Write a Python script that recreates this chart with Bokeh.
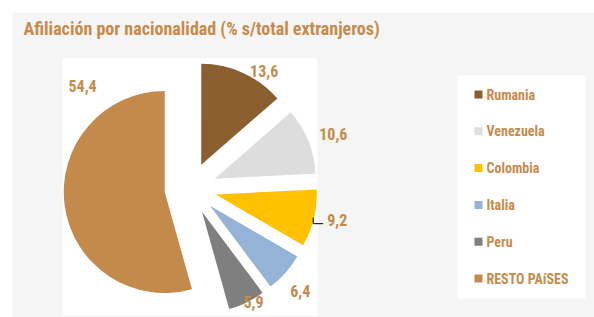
import math
from bokeh.plotting import figure
from bokeh.models import Range1d
from bokeh.core.properties import value
from bokeh.embed import file_html
from bokeh.resources import INLINE

# ---- data ----
countries = ["Rumania", "Venezuela", "Colombia", "Italia", "Peru", "RESTO PAíSES"]
shares = [13.6, 10.6, 9.2, 6.4, 5.9, 54.4]
value_labels = ["13,6", "10,6", "9,2", "6,4", "5,9", "54,4"]
title_text = "Afiliación por nacionalidad (% s/total extranjeros)"

# ---- style ----
colors = ["#8b5e2f", "#dddddd", "#ffc000", "#95b3d7", "#7f7f7f", "#c48a4b"]
text_color = "#c68b4b"
FONT = "Roboto Condensed"
label_angle = [32, 69, 102, 133, 151, 313.6]   # degrees clockwise from 12 o'clock
label_dist = [139, 153, 150, 150, 130, 149]

W, H = 594, 317


def X(px):
    return px


def Y(py):
    return H - py


p = figure(width=W, height=H, x_range=Range1d(0, W), y_range=Range1d(0, H),
           output_backend="svg", toolbar_location=None, min_border=0)
p.axis.visible = False
p.grid.visible = False
p.outline_line_color = None
p.background_fill_color = "white"
p.border_fill_color = "white"

# panels
p.quad(left=X(12), right=X(600), top=Y(12), bottom=Y(330), color="#f5f5f5", line_color=None)
p.quad(left=X(62), right=X(317), top=Y(58), bottom=Y(315), color="white", line_color=None)
p.quad(left=X(457), right=X(585), top=Y(75), bottom=Y(298), color="white", line_color=None)

# title
p.text(x=[X(23)], y=[Y(28)], text=[title_text], text_font=value(FONT),
       text_font_style="bold", text_font_size="18px", text_color=text_color,
       text_align="left", text_baseline="middle")

# pie
cx0, cy0 = X(190), Y(188)
explode = 26
radius = 101
total = sum(shares)
cum = 0.0
xs, ys, starts, ends = [], [], [], []
for s in shares:
    a0 = cum / total * 2 * math.pi
    cum += s
    a1 = cum / total * 2 * math.pi
    bis = (a0 + a1) / 2
    xs.append(cx0 + explode * math.sin(bis))
    ys.append(cy0 + explode * math.cos(bis))
    starts.append(math.pi / 2 - a0)
    ends.append(math.pi / 2 - a1)

p.wedge(x=xs, y=ys, radius=radius, start_angle=starts, end_angle=ends,
        direction="clock", fill_color=colors, line_color=None)

# value labels
lx = [cx0 + d * math.sin(math.radians(a)) for a, d in zip(label_angle, label_dist)]
ly = [cy0 + d * math.cos(math.radians(a)) for a, d in zip(label_angle, label_dist)]
p.text(x=lx, y=ly, text=value_labels, text_font=value(FONT), text_font_style="bold",
       text_font_size="16px", text_color=text_color, text_align="center",
       text_baseline="middle")

# leader line for Colombia label
p.line(x=[lx[2] - 24, lx[2] - 24, lx[2] - 14], y=[ly[2] + 2, ly[2] - 4, ly[2] - 4],
       line_color="black", line_width=1)

# legend
leg_top = Y(94)
step = 36.8
leg_y = [leg_top - i * step for i in range(len(countries))]
p.rect(x=[X(478)] * len(countries), y=leg_y, width=8, height=8,
       fill_color=colors, line_color=None)
p.text(x=[X(486)] * len(countries), y=leg_y, text=countries, text_font=value(FONT),
       text_font_style="bold", text_font_size="14px", text_color=text_color,
       text_align="left", text_baseline="middle")

open("out.html", "w").write(file_html(p, INLINE))
